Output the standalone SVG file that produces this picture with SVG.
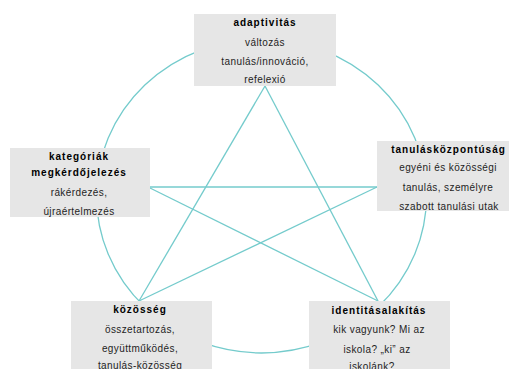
<svg xmlns="http://www.w3.org/2000/svg" width="512" height="369" viewBox="0 0 512 369">
<style>
.ln{fill:none;stroke:#74CBCC;stroke-width:1.3}
.box{fill:#E6E6E6}
.t{font-family:"Liberation Sans",Arial,sans-serif;font-size:10px;text-anchor:middle;fill:#1e1e1e;letter-spacing:0.4px}
.h{font-weight:bold;fill:#000;letter-spacing:1px}
</style>
<rect width="512" height="369" fill="#fff"/>
<g id="connectors">
<ellipse class="ln" cx="261.5" cy="196" rx="165" ry="157"/>
<line class="ln" x1="265" y1="86" x2="139" y2="301"/>
<line class="ln" x1="265" y1="86" x2="378" y2="301"/>
<line class="ln" x1="150" y1="187" x2="377" y2="187"/>
<line class="ln" x1="150" y1="188" x2="378" y2="301"/>
<line class="ln" x1="377" y1="187" x2="139" y2="301"/>
</g>
<g id="adaptivitas">
<rect class="box" x="194" y="14" width="142" height="72"/>
<text class="t h" x="265" y="26">adaptivitás</text>
<text class="t" x="265" y="46">változás</text>
<text class="t" x="265" y="64.5">tanulás/innováció,</text>
<text class="t" x="265" y="82.5">refelexió</text>
</g>
<g id="kategoriak">
<rect class="box" x="10" y="148" width="140" height="69"/>
<text class="t h" x="79" y="159.5">kategóriák</text>
<text class="t h" x="79" y="176">megkérdőjelezés</text>
<text class="t" x="79" y="196">rákérdezés,</text>
<text class="t" x="79" y="214.5">újraértelmezés</text>
</g>
<g id="tanulaskozpontusag">
<rect class="box" x="377" y="141" width="132" height="70"/>
<text class="t h" x="448.5" y="153">tanulásközpontúság</text>
<text class="t" x="448" y="171">egyéni és közösségi</text>
<text class="t" x="448" y="191">tanulás, személyre</text>
<text class="t" x="449" y="210">szabott tanulási utak</text>
</g>
<g id="kozosseg">
<rect class="box" x="71" y="301" width="141" height="75"/>
<text class="t h" x="140" y="313">közösség</text>
<text class="t" x="140" y="333">összetartozás,</text>
<text class="t" x="140" y="352">együttműködés,</text>
<text class="t" x="140" y="368.5">tanulás-közösség</text>
</g>
<g id="identitasalakitas">
<rect class="box" x="309" y="301" width="141" height="75"/>
<text class="t h" x="379" y="313.5">identitásalakítás</text>
<text class="t" x="379" y="333">kik vagyunk? Mi az</text>
<text class="t" x="377" y="352.5">iskola? „ki” az</text>
<text class="t" x="372" y="369.5">iskolánk?</text>
</g>
</svg>
